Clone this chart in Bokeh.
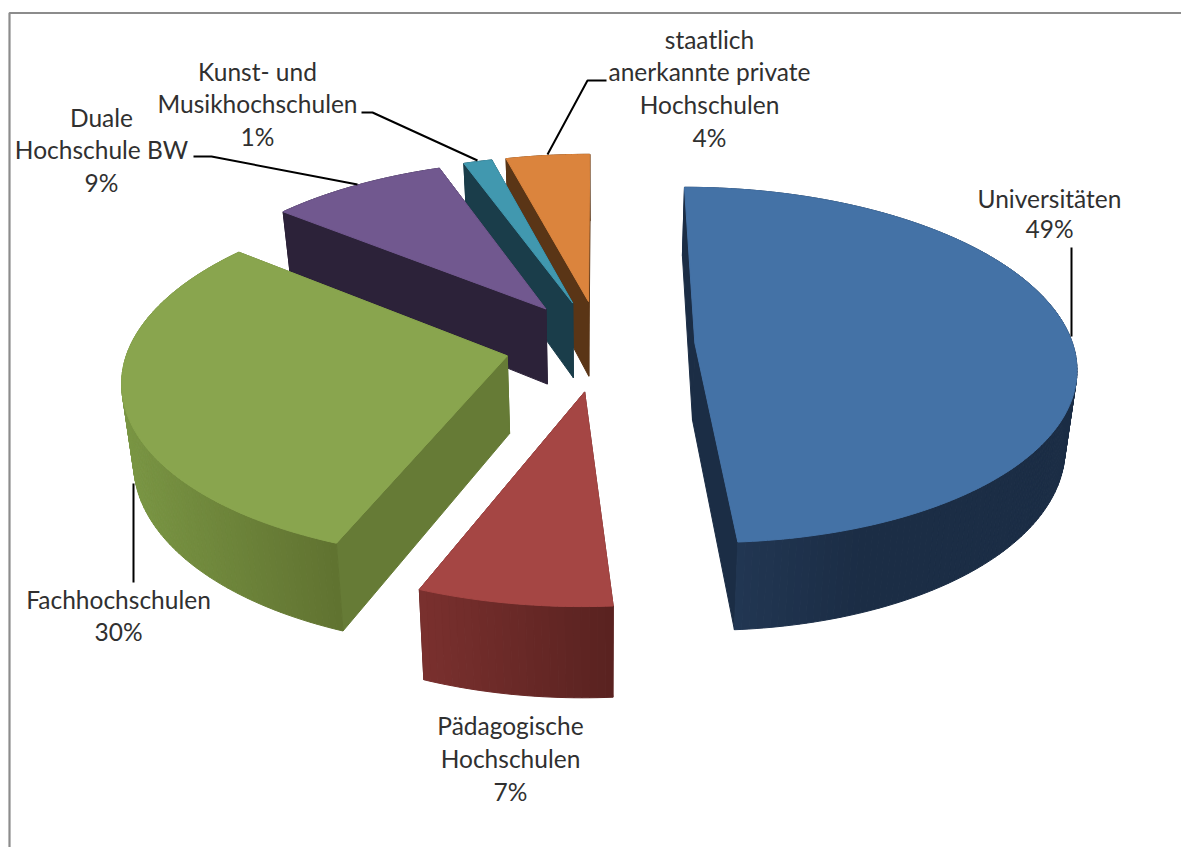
import math
from bokeh.plotting import figure
from bokeh.models import Range1d, ColumnDataSource
from bokeh.core.properties import value
from bokeh.embed import file_html
from bokeh.resources import INLINE

# ---- data (unrounded shares)
categories = ["Universitäten", "Pädagogische Hochschulen", "Fachhochschulen",
              "Duale Hochschule BW", "Kunst- und Musikhochschulen",
              "staatlich anerkannte private Hochschulen"]
shares = [48.9, 7.1, 29.8, 8.7, 1.4, 4.1]

# ---- styles
top_colors = ["#4472A6", "#A54644", "#89A54E", "#71588F", "#4198AF", "#DB843D"]
wall_colors = ["#1B2D45", "#622624", "#667B36", "#2C2239", "#1A3D4A", "#5A3516"]
arc_light = ["#243A58", "#7A302E", "#7A9644", "#2C2239", "#1A3D4A", "#5A3516"]
arc_dark = ["#1B2D45", "#592220", "#607230", "#2C2239", "#1A3D4A", "#5A3516"]
paint_order = [5, 4, 3, 2, 1, 0]
explode = [0.25, 0.265, 0.253, 0.255, 0.255, 0.255]

# ---- camera of the 3-D pie (page pixels)
PX, PY = 600.0, 344.0
A, B, K = 378.0, 175.3, 0.1236
H, M = 77.0, 0.025


def project(x, y, z):
    w = 1 - K * y
    return PX + A * x * (1 - M * z) / w, PY + (B * y + H * z) / w


def hex2rgb(c):
    return [int(c[i:i + 2], 16) for i in (1, 3, 5)]


def mix(a, b, t):
    t = max(0.0, min(1.0, t))
    ra, rb = hex2rgb(a), hex2rgb(b)
    return "#%02x%02x%02x" % tuple(round(u + (v - u) * t) for u, v in zip(ra, rb))


total = sum(shares)
bounds = [0.0]
for s in shares:
    bounds.append(bounds[-1] + s / total * 2 * math.pi)

xs, ys, colors = [], [], []
for i in paint_order:
    a0, a1 = bounds[i], bounds[i + 1]
    mid = (a0 + a1) / 2
    ox, oy = explode[i] * math.sin(mid), -explode[i] * math.cos(mid)
    n = max(2, int(math.degrees(a1 - a0)))
    angs = [a0 + (a1 - a0) * k / n for k in range(n + 1)]
    rim = [(ox + math.sin(t), oy - math.cos(t)) for t in angs]
    apex = (ox, oy)

    quads = []
    for p0, p1 in (((apex), rim[0]), (apex, rim[-1])):
        quads.append(((p0[1] + p1[1]) / 2, [p0, p1], wall_colors[i]))
    rim_x = [project(r[0], r[1], 0)[0] for r in rim]
    lo, hi = min(rim_x), max(rim_x)
    for k in range(n):
        p0, p1 = rim[k], rim[k + 1]
        if i == 0:
            t = ((rim_x[k] + rim_x[k + 1]) / 2 - lo) / (0.45 * (hi - lo))
        else:
            t = ((rim_x[k] + rim_x[k + 1]) / 2 - lo) / (hi - lo)
        quads.append(((p0[1] + p1[1]) / 2, [p0, p1], mix(arc_light[i], arc_dark[i], t)))
    for _, (p0, p1), c in sorted(quads, key=lambda q: q[0]):
        pts = [project(p0[0], p0[1], 0), project(p1[0], p1[1], 0),
               project(p1[0], p1[1], 1), project(p0[0], p0[1], 1)]
        xs.append([q[0] for q in pts])
        ys.append([q[1] for q in pts])
        colors.append(c)
    pts = [project(apex[0], apex[1], 0)] + [project(r[0], r[1], 0) for r in rim]
    xs.append([q[0] for q in pts])
    ys.append([q[1] for q in pts])
    colors.append(top_colors[i])

p = figure(width=1181, height=847, x_range=Range1d(0, 1181), y_range=Range1d(847, 0),
           output_backend="svg", toolbar_location=None, min_border=0)
p.axis.visible = False
p.grid.visible = False
p.outline_line_color = None
p.background_fill_color = "white"

# chart frame
p.line([1181, 9, 9], [12.5, 12.5, 847], line_color="#8C8C8C", line_width=2.2)

p.patches("xs", "ys", source=ColumnDataSource(dict(xs=xs, ys=ys, c=colors)),
          fill_color="c", line_color="c", line_width=1.0)

# leader lines
leaders = [
    ([1071, 1071], [247, 336]),
    ([133, 133], [483, 582]),
    ([193, 211, 357], [156, 156, 184]),
    ([361, 372, 477], [112, 112, 160]),
    ([606, 587, 547], [80, 80, 154]),
]
for lx, ly in leaders:
    p.line(lx, ly, line_color="black", line_width=2.0)

# labels: (centre x, [(text, y), ...])
labels = [
    (709, [("staatlich", 39), ("anerkannte private", 71), ("Hochschulen", 104), ("4%", 137)]),
    (257, [("Kunst- und", 71), ("Musikhochschulen", 103), ("1%", 136)]),
    (101, [("Duale", 117), ("Hochschule BW", 149), ("9%", 182)]),
    (1049, [("Universitäten", 198), ("49%", 228)]),
    (118, [("Fachhochschulen", 599), ("30%", 631)]),
    (510, [("Pädagogische", 725), ("Hochschulen", 758), ("7%", 791)]),
]
tx, ty, tt = [], [], []
for cx, rows in labels:
    for t, y in rows:
        tx.append(cx); ty.append(y); tt.append(t)
p.text(tx, ty, text=tt, text_font=value("Lato"), text_font_size="24.5px",
       text_color="#303030", text_align="center", text_baseline="middle")

open("out.html", "w").write(file_html(p, INLINE))
